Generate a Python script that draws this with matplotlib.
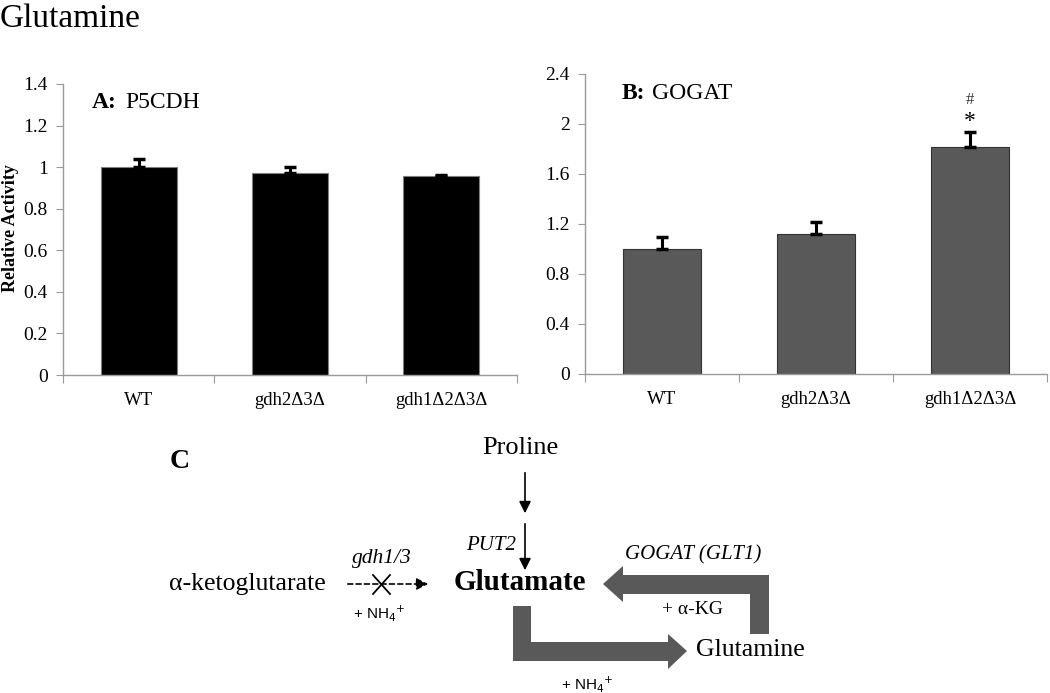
import numpy as np
import matplotlib.pyplot as plt
from matplotlib.patches import Polygon, FancyArrowPatch

plt.rcParams['font.family'] = ['Liberation Serif', 'DejaVu Serif']

strains = ['WT', 'gdh2\u03943\u0394', 'gdh1\u03942\u03943\u0394']
p5cdh = [1.0, 0.97, 0.955]
p5cdh_err = [0.04, 0.03, 0.008]
gogat = [1.0, 1.12, 1.82]
gogat_err = [0.10, 0.095, 0.12]

W, H = 1050, 693
fig = plt.figure(figsize=(W / 100, H / 100), dpi=100)


def px_axes(x0, y0, x1, y1):
    # pixel box (top-left origin) -> figure axes
    return fig.add_axes([x0 / W, 1 - y1 / H, (x1 - x0) / W, (y1 - y0) / H])


def style_axes(ax, ymax, step):
    for s in ['top', 'right']:
        ax.spines[s].set_visible(False)
    for s in ['left', 'bottom']:
        ax.spines[s].set_color('#9a9a9a')
        ax.spines[s].set_linewidth(1)
    ticks = np.arange(0, ymax + 1e-9, step)
    ax.set_xlim(0, 3)
    ax.set_ylim(0, ymax)
    ax.set_yticks(ticks)
    ax.set_yticklabels(['%g' % v for v in ticks], fontsize=14)
    ax.set_xticks([0, 1, 2, 3])
    ax.set_xticklabels([])
    ax.set_xticks([0.5, 1.5, 2.5], minor=True)
    ax.set_xticklabels(strains, minor=True, fontsize=13.5)
    ax.tick_params(axis='x', which='major', length=6, color='#9a9a9a', direction='out')
    ax.tick_params(axis='x', which='minor', length=0, pad=12)
    ax.tick_params(axis='y', length=5, color='#9a9a9a', pad=6)


x = np.arange(3) + 0.5

axA = px_axes(63, 84, 517, 375)
axA.bar(x, p5cdh, width=0.5, color='black', edgecolor='#7f7f7f', linewidth=0.8, zorder=2)
axA.errorbar(x, p5cdh, yerr=[np.zeros(3), p5cdh_err], fmt='none', ecolor='black',
             elinewidth=2.2, capsize=4, capthick=2.5, zorder=3)
style_axes(axA, 1.4, 0.2)
fig.text(11 / W, 1 - 228 / H, 'Relative Activity', fontsize=13, fontweight='bold',
         rotation=90, ha='center', va='center')
axA.text(0.063, 0.935, 'A:', transform=axA.transAxes, fontsize=17, va='center', ha='left',
         fontweight='bold')
axA.text(0.137, 0.935, 'P5CDH', transform=axA.transAxes, fontsize=17, va='center', ha='left')

axB = px_axes(585, 74, 1047, 374)
axB.bar(x, gogat, width=0.51, color='#595959', edgecolor='#333333', linewidth=0.8, zorder=2)
axB.errorbar(x, gogat, yerr=[np.zeros(3), gogat_err], fmt='none', ecolor='black',
             elinewidth=2.2, capsize=4, capthick=2.5, zorder=3)
style_axes(axB, 2.4, 0.4)
axB.text(0.08, 0.935, 'B:', transform=axB.transAxes, fontsize=17, va='center', ha='left',
         fontweight='bold')
axB.text(0.145, 0.935, 'GOGAT', transform=axB.transAxes, fontsize=17, va='center', ha='left')
axB.text(x[2], gogat[2] + gogat_err[2] + 0.08, '*', ha='center', va='center', fontsize=17)
axB.text(x[2], gogat[2] + gogat_err[2] + 0.25, '#', ha='center', va='center', fontsize=12,
         color='#333333')

fig.text(0, 1 - 19 / H, 'Glutamine', fontsize=24, ha='left', va='center')

# panel C: pathway diagram in pixel coordinates
axC = fig.add_axes([0, 0, 1, 1])
axC.set_xlim(0, W)
axC.set_ylim(H, 0)
axC.axis('off')
axC.patch.set_alpha(0)

grey = '#595959'
sans = ['Liberation Sans', 'DejaVu Sans']

axC.text(180, 462, 'C', fontsize=20, fontweight='bold', ha='center', va='center')
axC.text(520, 448, 'Proline', fontsize=19, ha='center', va='center')
axC.text(520, 582, 'Glutamate', fontsize=21, fontweight='bold', ha='center', va='center')
axC.text(247, 584, '\u03b1-ketoglutarate', fontsize=18.5, ha='center', va='center')
axC.text(491, 546, 'PUT2', fontsize=15, style='italic', ha='center', va='center')
axC.text(382, 559, 'gdh1/3', fontsize=15.5, style='italic', ha='center', va='center')
axC.text(379, 613, '+ NH$_4$$^{+}$', fontsize=11, family=sans, ha='center', va='center')
axC.text(693, 555, 'GOGAT (GLT1)', fontsize=15, style='italic', ha='center', va='center')
axC.text(692, 609, '+ \u03b1-KG', fontsize=14, ha='center', va='center')
axC.text(750, 650, 'Glutamine', fontsize=18.5, ha='center', va='center')
axC.text(587, 684, '+ NH$_4$$^{+}$', fontsize=11, family=sans, ha='center', va='center')

# proline -> glutamate arrows
for y0, y1 in [(470, 516), (521, 573)]:
    axC.add_patch(FancyArrowPatch((525, y0), (525, y1), arrowstyle='-|>,head_length=7,head_width=3.5',
                                  color='black', lw=1.2, mutation_scale=1))
# dashed blocked arrow
axC.add_patch(FancyArrowPatch((345, 584), (431, 584), arrowstyle='-|>,head_length=7,head_width=3.5',
                              color='black', lw=1.2, linestyle=(0, (3, 2)), mutation_scale=1))
axC.plot([373, 390], [575, 594], color='black', lw=1.3)
axC.plot([373, 390], [594, 575], color='black', lw=1.3)

# thick grey GOGAT arrow (glutamine -> glutamate)
top = [(769, 575), (769, 634), (750, 634), (750, 594), (623, 594), (623, 602),
       (603, 584), (623, 566), (623, 575)]
axC.add_patch(Polygon(top, closed=True, facecolor=grey, edgecolor='none'))
# thick grey arrow (glutamate -> glutamine)
bot = [(513, 606), (531, 606), (531, 642), (668, 642), (668, 634), (687, 651),
       (668, 669), (668, 661), (513, 661)]
axC.add_patch(Polygon(bot, closed=True, facecolor=grey, edgecolor='none'))

fig.savefig('out.png', dpi=100)
